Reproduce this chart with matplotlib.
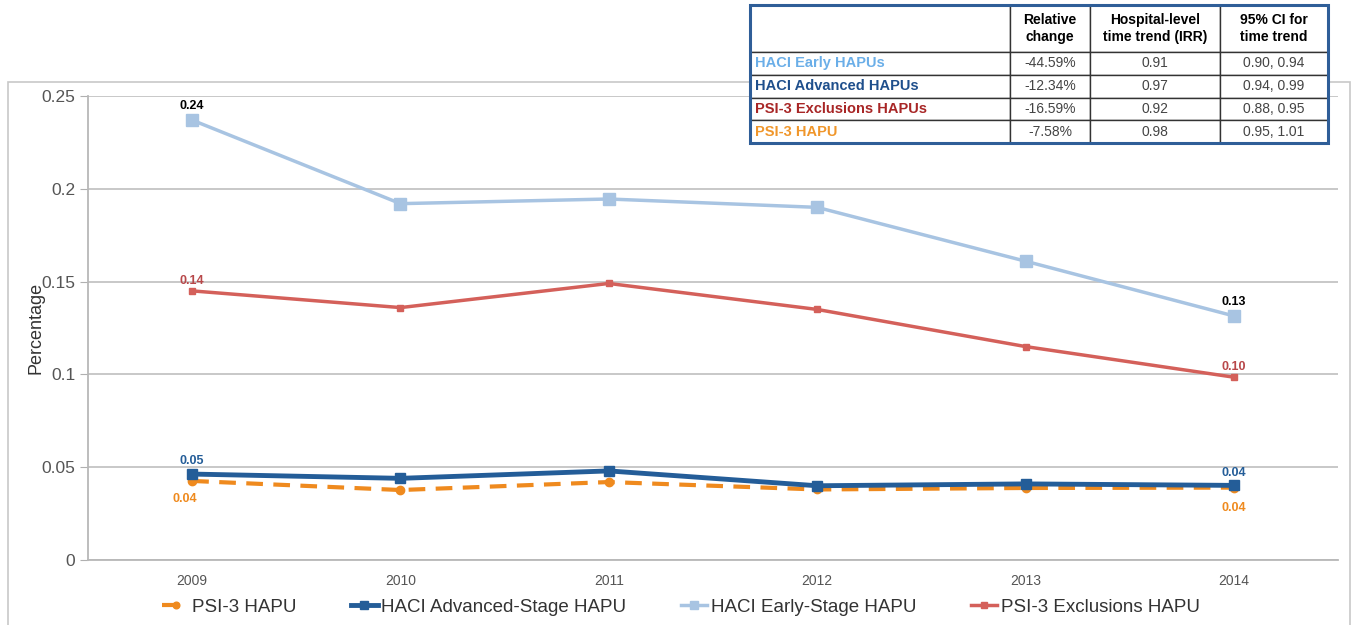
import matplotlib
matplotlib.use("Agg")
import matplotlib.pyplot as plt
from matplotlib.patches import Rectangle

plt.rcParams["font.family"] = ["Liberation Sans", "DejaVu Sans"]

years = ["2009", "2010", "2011", "2012", "2013", "2014"]
psi3_hapu = [0.0426, 0.0377, 0.0420, 0.0380, 0.0388, 0.0390]
haci_advanced = [0.0463, 0.0440, 0.0480, 0.0400, 0.0410, 0.0402]
haci_early = [0.2370, 0.1920, 0.1945, 0.1900, 0.1610, 0.1315]
psi3_excl = [0.1450, 0.1360, 0.1490, 0.1350, 0.1150, 0.0985]

table_rows = ["HACI Early HAPUs", "HACI Advanced HAPUs", "PSI-3 Exclusions HAPUs", "PSI-3 HAPU"]
table_cols = ["Relative\nchange", "Hospital-level\ntime trend (IRR)", "95% CI for\ntime trend"]
rel_change = ["-44.59%", "-12.34%", "-16.59%", "-7.58%"]
irr = ["0.91", "0.97", "0.92", "0.98"]
ci = ["0.90, 0.94", "0.94, 0.99", "0.88, 0.95", "0.95, 1.01"]

c_orange = "#ef8a1e"
c_dark = "#245d98"
c_light = "#a8c4e2"
c_red = "#d4605a"
row_colors = ["#6aaee8", "#1f4f8c", "#a82626", "#f0962a"]

fig = plt.figure(figsize=(13.54, 6.25), dpi=100)

# outer frame
fig.patches.append(Rectangle((8 / 1354, -0.01), 1342 / 1354, (625 - 82) / 625 + 0.01,
                             transform=fig.transFigure, fill=False,
                             edgecolor="#c8c8c8", linewidth=1.2, zorder=-5))

ax = fig.add_axes([88 / 1354, (625 - 560) / 625, 1250 / 1354, 464 / 625])
x = list(range(len(years)))

ax.plot(x, psi3_hapu, color=c_orange, lw=3, ls=(0, (4, 2.5)), marker="o", ms=6,
        label="PSI-3 HAPU", zorder=3)
ax.plot(x, haci_advanced, color=c_dark, lw=3.5, marker="s", ms=7,
        label="HACI Advanced-Stage HAPU", zorder=4)
ax.plot(x, haci_early, color=c_light, lw=2.5, marker="s", ms=8,
        label="HACI Early-Stage HAPU", zorder=3)
ax.plot(x, psi3_excl, color=c_red, lw=2.5, marker="s", ms=5,
        label="PSI-3 Exclusions HAPU", zorder=3)

# data labels
lab = dict(ha="center", fontsize=9, fontweight="bold")
ax.annotate("0.24", (0, haci_early[0]), xytext=(0, 8), textcoords="offset points", color="black", **lab)
ax.annotate("0.13", (5, haci_early[5]), xytext=(0, 8), textcoords="offset points", color="black", **lab)
ax.annotate("0.14", (0, psi3_excl[0]), xytext=(0, 5), textcoords="offset points", color="#b8484a", **lab)
ax.annotate("0.10", (5, psi3_excl[5]), xytext=(0, 5), textcoords="offset points", color="#b8484a", **lab)
ax.annotate("0.05", (0, haci_advanced[0]), xytext=(0, 7), textcoords="offset points", color=c_dark, **lab)
ax.annotate("0.04", (5, haci_advanced[5]), xytext=(0, 7), textcoords="offset points", color=c_dark, **lab)
ax.annotate("0.04", (0, psi3_hapu[0]), xytext=(-5, -15), textcoords="offset points", color=c_orange, **lab)
ax.annotate("0.04", (5, psi3_hapu[5]), xytext=(0, -17), textcoords="offset points", color=c_orange, **lab)

ax.set_xlim(-0.5, 5.5)
ax.set_ylim(0, 0.25)
ax.set_xticks(x)
ax.set_xticklabels(years)
ax.set_yticks([0, 0.05, 0.1, 0.15, 0.2, 0.25])
ax.set_yticklabels(["0", "0.05", "0.1", "0.15", "0.2", "0.25"])
ax.tick_params(axis="x", length=0, labelsize=10, colors="#555555", pad=10)
ax.tick_params(axis="y", length=6, labelsize=12.5, colors="#555555", pad=3)
ax.tick_params(axis="both", color="#b0b0b0")
ax.grid(axis="y", color="#c4c4c4", lw=1.3)
ax.set_axisbelow(True)
for s in ["top", "right"]:
    ax.spines[s].set_visible(False)
for s in ["left", "bottom"]:
    ax.spines[s].set_color("#b8b8b8")
    ax.spines[s].set_linewidth(1.3)
ax.set_ylabel("Percentage", fontsize=13, color="#333333")
ax.yaxis.set_label_coords(-0.035, 0.5)

fig.legend(loc="center", bbox_to_anchor=(0.503, (625 - 607) / 625), ncol=4, frameon=False,
           fontsize=13.5, handlelength=1.4, handletextpad=0.2, columnspacing=2.9,
           labelcolor="#333333", markerscale=0.8)

# table
tax = fig.add_axes([750 / 1354, (625 - 143) / 625, 578 / 1354, 138 / 625])
tax.set_zorder(10)
tax.axis("off")
cells = [[""] + table_cols]
for i in range(len(table_rows)):
    cells.append([table_rows[i], rel_change[i], irr[i], ci[i]])
tbl = tax.table(cellText=cells, colWidths=[260 / 578, 80 / 578, 130 / 578, 108 / 578],
                bbox=[0, 0, 1, 1], cellLoc="center")
tbl.auto_set_font_size(False)
hh = 47 / 138
rh = (1 - hh) / 4
for (r, c), cell in tbl.get_celld().items():
    cell.set_height(hh if r == 0 else rh)
    cell.set_edgecolor("#333333")
    cell.set_facecolor("white")
    cell.set_linewidth(1.0)
    t = cell.get_text()
    if r == 0:
        t.set_fontweight("bold")
        t.set_fontsize(10)
    elif c == 0:
        t.set_fontweight("bold")
        t.set_fontsize(10.5)
        t.set_color(row_colors[r - 1])
        t.set_ha("left")
        cell.PAD = 0.02
    else:
        t.set_fontsize(10)
        t.set_color("#444444")
tax.add_patch(Rectangle((0, 0), 1, 1, transform=tax.transAxes, fill=False,
                        edgecolor="#2f5e98", lw=2.2, zorder=5, clip_on=False))

fig.savefig("out.png", dpi=100)
